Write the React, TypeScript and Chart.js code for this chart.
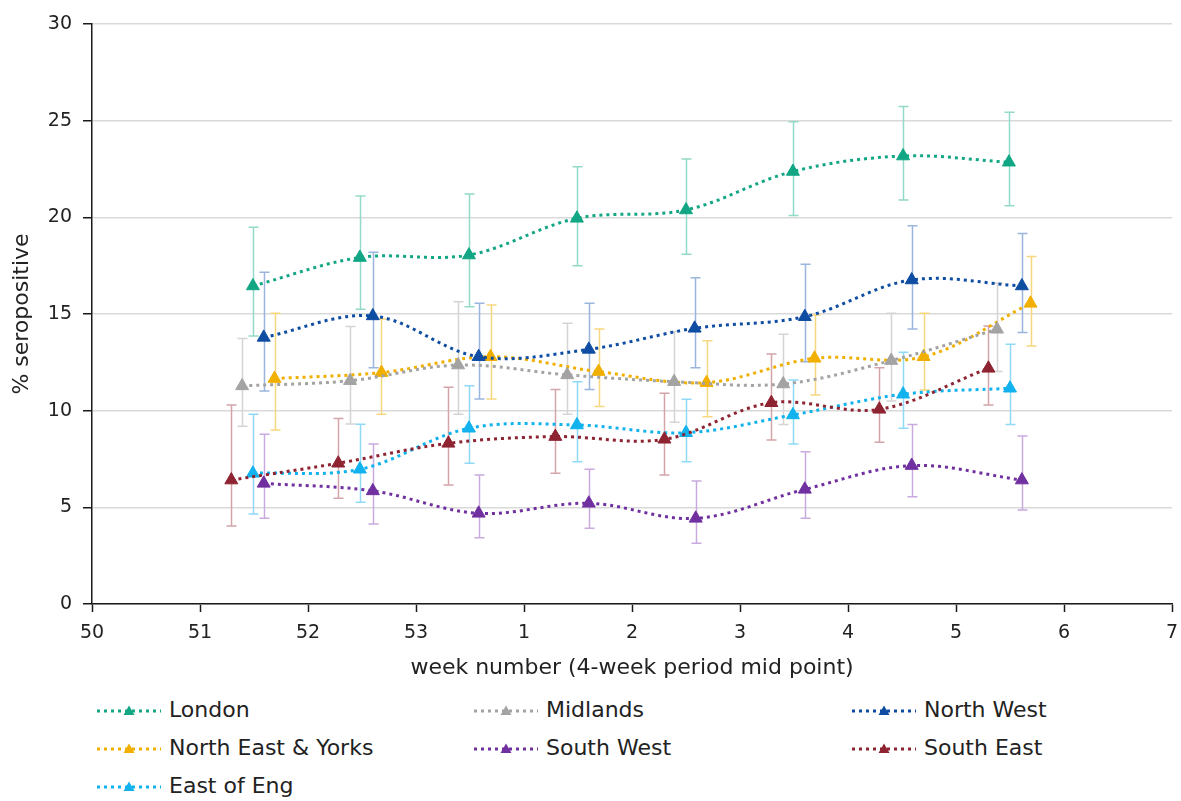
import React, { useEffect, useRef } from 'react';
import { Chart, registerables } from 'chart.js';

Chart.register(...registerables);

const FONT = '"DejaVu Sans", "Liberation Sans", Arial, sans-serif';

// x axis tick labels (week numbers), placed at positions 0..10
const weekLabels = ['50', '51', '52', '53', '1', '2', '3', '4', '5', '6', '7'];

const regionNames = ['London', 'Midlands', 'North West', 'North East & Yorks', 'South West', 'South East', 'East of Eng'];
const lineColors = ['#12A684', '#A3A3A3', '#0E4DA2', '#F1AF00', '#7030A0', '#8E2331', '#11B2EE'];
const errorColors = ['#93D9C7', '#D4D4D4', '#9AB5DE', '#F7D77E', '#C9AADF', '#D3A4A9', '#8FD9F6'];

// x positions (period mid point, in axis index units)
const londonX = [1.49, 2.48, 3.49, 4.49, 5.5, 6.49, 7.51, 8.49];
const midlandsX = [1.39, 2.39, 3.39, 4.4, 5.39, 6.4, 7.4, 8.38];
const northWestX = [1.59, 2.6, 3.58, 4.6, 5.58, 6.6, 7.59, 8.61];
const northEastX = [1.69, 2.68, 3.69, 4.69, 5.69, 6.69, 7.7, 8.69];
const southWestX = [1.59, 2.6, 3.58, 4.6, 5.59, 6.6, 7.59, 8.61];
const southEastX = [1.29, 2.28, 3.3, 4.29, 5.3, 6.29, 7.29, 8.3];
const eastX = [1.49, 2.48, 3.49, 4.49, 5.5, 6.49, 7.51, 8.5];

// % seropositive
const londonY = [16.45, 17.92, 18.05, 19.95, 20.38, 22.37, 23.17, 22.85];
const midlandsY = [11.28, 11.55, 12.36, 11.85, 11.5, 11.38, 12.59, 14.21];
const northWestY = [13.79, 14.9, 12.79, 13.17, 14.26, 14.86, 16.76, 16.45];
const northEastY = [11.66, 11.97, 12.79, 12.02, 11.45, 12.71, 12.79, 15.55];
const southWestY = [6.24, 5.85, 4.69, 5.21, 4.43, 5.93, 7.16, 6.41];
const southEastY = [6.41, 7.28, 8.31, 8.66, 8.52, 10.41, 10.07, 12.19];
const eastY = [6.76, 6.97, 9.09, 9.26, 8.86, 9.78, 10.85, 11.16];

// confidence interval upper bounds
const londonHi = [19.49, 21.1, 21.21, 22.62, 23.02, 24.95, 25.73, 25.43];
const midlandsHi = [13.73, 14.35, 15.64, 14.52, 14.09, 13.95, 15.04, 16.59];
const northWestHi = [17.16, 18.19, 15.55, 15.55, 16.88, 17.57, 19.57, 19.17];
const northEastHi = [15.04, 14.74, 15.47, 14.23, 13.62, 14.95, 15.04, 17.97];
const southWestHi = [8.78, 8.28, 6.67, 6.97, 6.36, 7.88, 9.29, 8.69];
const southEastHi = [10.29, 9.6, 11.21, 11.1, 10.9, 12.93, 12.22, 14.38];
const eastHi = [9.81, 9.3, 11.29, 11.5, 10.59, 11.59, 13.02, 13.43];

// confidence interval lower bounds
const londonLo = [13.86, 15.24, 15.38, 17.49, 18.09, 20.09, 20.9, 20.6];
const midlandsLo = [9.19, 9.31, 9.81, 9.81, 9.4, 9.29, 10.5, 12.02];
const northWestLo = [11.02, 12.22, 10.6, 11.1, 12.22, 12.53, 14.23, 14.04];
const northEastLo = [9.0, 9.81, 10.6, 10.21, 9.69, 10.81, 11.07, 13.35];
const southWestLo = [4.43, 4.14, 3.43, 3.92, 3.14, 4.43, 5.55, 4.86];
const southEastLo = [4.03, 5.47, 6.16, 6.76, 6.67, 8.48, 8.36, 10.29];
const eastLo = [4.66, 5.26, 7.28, 7.36, 7.36, 8.28, 9.09, 9.29];

const seriesX = [londonX, midlandsX, northWestX, northEastX, southWestX, southEastX, eastX];
const seriesY = [londonY, midlandsY, northWestY, northEastY, southWestY, southEastY, eastY];
const seriesHi = [londonHi, midlandsHi, northWestHi, northEastHi, southWestHi, southEastHi, eastHi];
const seriesLo = [londonLo, midlandsLo, northWestLo, northEastLo, southWestLo, southEastLo, eastLo];

const errorBarPlugin = {
  id: 'errorBars',
  beforeDatasetsDraw(chart: any) {
    const { ctx, scales } = chart;
    const xs = scales.x;
    const ys = scales.y;
    ctx.save();
    chart.data.datasets.forEach((ds: any, i: number) => {
      const lo = seriesLo[i];
      const hi = seriesHi[i];
      ctx.strokeStyle = errorColors[i];
      ctx.lineWidth = 1.5;
      ds.data.forEach((pt: any, j: number) => {
        const px = Math.round(xs.getPixelForValue(pt.x)) + 0.5;
        const yl = ys.getPixelForValue(lo[j]);
        const yh = ys.getPixelForValue(hi[j]);
        ctx.beginPath();
        ctx.moveTo(px, yl);
        ctx.lineTo(px, yh);
        ctx.moveTo(px - 5, yl);
        ctx.lineTo(px + 5, yl);
        ctx.moveTo(px - 5, yh);
        ctx.lineTo(px + 5, yh);
        ctx.stroke();
      });
    });
    ctx.restore();
  },
};

const legendCols = [97, 474, 852];
const legendRows = [710, 748, 786];

function LegendItem({ i }: { i: number }) {
  const col = i % 3;
  const row = Math.floor(i / 3);
  const c = lineColors[i];
  return (
    <div
      style={{
        position: 'absolute',
        left: legendCols[col],
        top: legendRows[row] - 690 - 16,
        height: 32,
        display: 'flex',
        alignItems: 'center',
        whiteSpace: 'nowrap',
      }}
    >
      <svg width={64} height={16} style={{ display: 'block' }}>
        <line x1={0} y1={9} x2={64} y2={9} stroke={c} strokeWidth={3} strokeDasharray="3 4" />
        <polygon points="32,3.5 37.5,13 26.5,13" fill={c} />
      </svg>
      <span
        style={{
          marginLeft: 8,
          fontFamily: FONT,
          fontSize: 22,
          color: '#222222',
          lineHeight: '32px',
        }}
      >
        {regionNames[i]}
      </span>
    </div>
  );
}

export default function App() {
  const canvasRef = useRef<HTMLCanvasElement | null>(null);

  useEffect(() => {
    const canvas = canvasRef.current;
    if (!canvas) return;
    const datasets = regionNames.map((name, i) => ({
      label: name,
      data: seriesX[i].map((x, j) => ({ x, y: seriesY[i][j] })),
      borderColor: lineColors[i],
      backgroundColor: lineColors[i],
      borderWidth: 3,
      borderDash: [3, 4],
      borderCapStyle: 'butt' as const,
      tension: 0.35,
      fill: false,
      pointStyle: 'triangle' as const,
      pointRadius: 7.5,
      pointHoverRadius: 7.5,
      pointBorderWidth: 1,
      pointBackgroundColor: lineColors[i],
      pointBorderColor: lineColors[i],
    }));

    const chart = new Chart(canvas, {
      type: 'line',
      data: { datasets },
      options: {
        animation: false,
        responsive: true,
        maintainAspectRatio: false,
        layout: { padding: { top: 24, right: 9, left: 0, bottom: 0 } },
        plugins: {
          legend: { display: false },
          tooltip: { enabled: false },
        },
        scales: {
          x: {
            type: 'linear',
            min: 0,
            max: 10,
            afterFit: (s: any) => {
              s.height = 86;
              s.paddingRight = 0;
              s.paddingLeft = 0;
            },
            ticks: {
              stepSize: 1,
              autoSkip: false,
              maxRotation: 0,
              padding: 10,
              color: '#222222',
              font: { family: FONT, size: 19 },
              callback: (v: any) => weekLabels[Math.round(Number(v))] ?? '',
            },
            grid: {
              drawOnChartArea: false,
              drawTicks: true,
              tickLength: 8,
              tickColor: '#1a1a1a',
              tickWidth: 1.5,
              color: '#1a1a1a',
            },
            border: { display: true, color: '#1a1a1a', width: 1.5 },
            title: {
              display: true,
              text: 'week number (4-week period mid point)',
              color: '#222222',
              font: { family: FONT, size: 22 },
              padding: { top: 4, bottom: 9 },
            },
          },
          y: {
            type: 'linear',
            min: 0,
            max: 30,
            afterFit: (s: any) => {
              s.width = 92;
            },
            ticks: {
              stepSize: 5,
              padding: 11,
              color: '#222222',
              font: { family: FONT, size: 19 },
            },
            grid: {
              color: '#D9D9D9',
              lineWidth: 1.5,
              tickLength: 9,
              tickColor: '#1a1a1a',
              tickWidth: 1.5,
            },
            border: { display: true, color: '#1a1a1a', width: 1.5 },
            title: {
              display: true,
              text: '% seropositive',
              color: '#222222',
              font: { family: FONT, size: 22 },
              padding: { top: 9, bottom: 0 },
            },
          },
        },
      },
      plugins: [errorBarPlugin],
    });

    return () => {
      chart.destroy();
    };
  }, []);

  return (
    <div style={{ position: 'absolute', left: 0, top: 0, width: 1181, height: 801, background: '#fff' }}>
      <div style={{ position: 'absolute', left: 0, top: 0, width: 1181, height: 690 }}>
        <canvas ref={canvasRef} />
      </div>
      <div style={{ position: 'absolute', left: 0, top: 690, width: 1181, height: 111 }}>
        {regionNames.map((_, i) => (
          <LegendItem key={i} i={i} />
        ))}
      </div>
    </div>
  );
}
